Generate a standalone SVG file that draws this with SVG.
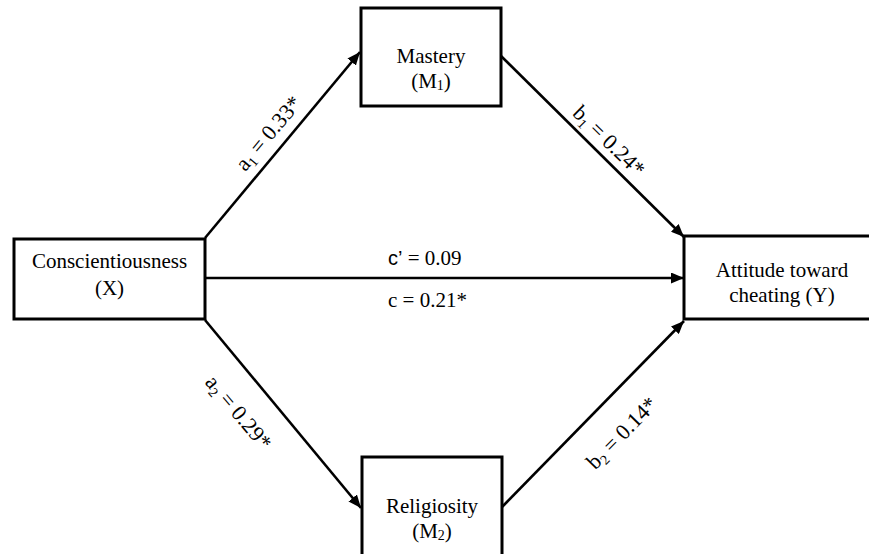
<svg xmlns="http://www.w3.org/2000/svg" width="869" height="554" viewBox="0 0 869 554">
<style>
.box{fill:#fff;stroke:#000;stroke-width:3}
text{font-family:'Liberation Serif','Times New Roman',Tinos,'DejaVu Serif',serif;fill:#000}
.t{font-size:21px;text-anchor:middle}
.lbl{font-size:22px;text-anchor:middle}
.cl{font-size:21px}
.sans{font-family:'Liberation Sans',Arial,sans-serif;font-size:20px}
.sub{font-size:14px}
.edge{stroke:#000;stroke-width:2.6;fill:none;marker-end:url(#arr)}
</style>
<defs>
<marker id="arr" markerUnits="userSpaceOnUse" markerWidth="13" markerHeight="11" refX="13" refY="5.5" orient="auto">
<path d="M0,0 L13,5.5 L0,11 z" fill="#000"/>
</marker>
</defs>
<rect width="869" height="554" fill="#fff"/>
<g id="connectors">
<line class="edge" x1="205" y1="238" x2="360" y2="52"/>
<line class="edge" x1="501" y1="56" x2="684" y2="237"/>
<line class="edge" x1="205" y1="278" x2="684" y2="278"/>
<line class="edge" x1="205" y1="320" x2="361" y2="508"/>
<line class="edge" x1="502" y1="507" x2="684" y2="321"/>
<text class="lbl" font-family="Liberation Serif, serif" transform="translate(274,138) rotate(-50)">a<tspan class="sub" dy="4">1</tspan><tspan dy="-4"> = 0.33*</tspan></text>
<text class="lbl" font-family="Liberation Serif, serif" transform="translate(604,146) rotate(44.5)">b<tspan class="sub" dy="4">1</tspan><tspan dy="-4"> = 0.24*</tspan></text>
<text class="lbl" font-family="Liberation Serif, serif" transform="translate(233,417) rotate(50)">a<tspan class="sub" dy="4">2</tspan><tspan dy="-4"> = 0.29*</tspan></text>
<text class="lbl" font-family="Liberation Serif, serif" transform="translate(627,438) rotate(-45.6)">b<tspan class="sub" dy="4">2</tspan><tspan dy="-4"> = 0.14*</tspan></text>
<text class="cl" font-family="Liberation Serif, serif" x="388" y="265"><tspan class="sans">c’</tspan> = 0.09</text>
<text class="cl" font-family="Liberation Serif, serif" x="388" y="307">c = 0.21*</text>
</g>
<g id="node-x">
<rect class="box" x="14" y="239" width="191" height="80"/>
<text class="t" x="109.5" y="268">Conscientiousness</text>
<text class="t" x="109.5" y="295">(X)</text>
</g>
<g id="node-m1">
<rect class="box" x="361" y="8" width="140" height="98"/>
<text class="t" x="431" y="63">Mastery</text>
<text class="t" x="431" y="88">(M<tspan class="sub" dy="2">1</tspan><tspan dy="-2">)</tspan></text>
</g>
<g id="node-y">
<rect class="box" x="684" y="236" width="200" height="83"/>
<text class="t" x="782" y="277">Attitude toward</text>
<text class="t" x="782" y="302">cheating (Y)</text>
</g>
<g id="node-m2">
<rect class="box" x="362" y="457" width="140" height="110"/>
<text class="t" x="432" y="513">Religiosity</text>
<text class="t" x="432" y="538">(M<tspan class="sub" dy="2">2</tspan><tspan dy="-2">)</tspan></text>
</g>
</svg>
